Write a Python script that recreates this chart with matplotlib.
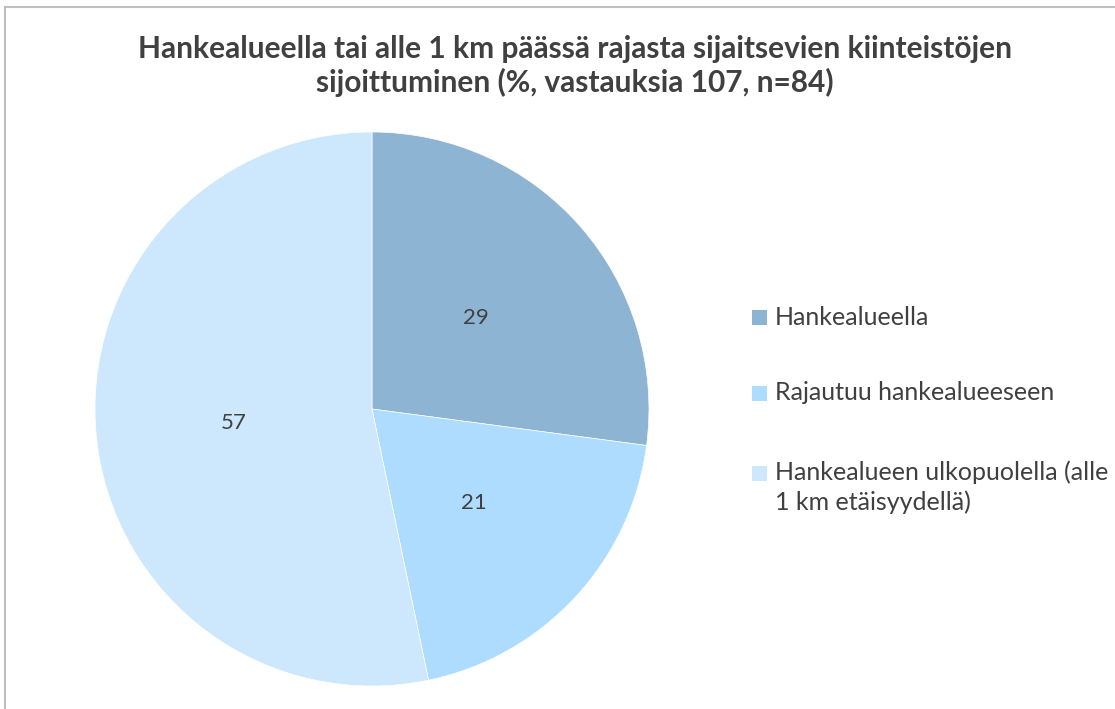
import matplotlib
matplotlib.use("Agg")
import matplotlib.pyplot as plt
from matplotlib.patches import Rectangle
from matplotlib.lines import Line2D

labels = ["Hankealueella", "Rajautuu hankealueeseen",
          "Hankealueen ulkopuolella (alle\n1 km etäisyydellä)"]
values = [29, 21, 57]
colors = ["#8EB4D4", "#ADDCFE", "#CDE7FC"]
title = "Hankealueella tai alle 1 km päässä rajasta sijaitsevien kiinteistöjen\nsijoittuminen (%, vastauksia 107, n=84)"

plt.rcParams['font.family'] = ['Lato', 'DejaVu Sans']

W, H = 1115, 709
fig = plt.figure(figsize=(W / 100, H / 100), dpi=100)

# pie centre (372, 409) px, radius 277 px
cx, cy, r = 372, 409, 277
ax = fig.add_axes([(cx - r) / W, (H - cy - r) / H, 2 * r / W, 2 * r / H])
wedges, texts = ax.pie(values, colors=colors, startangle=90, counterclock=False,
                       labels=[str(v) for v in values], labeldistance=0.5,
                       wedgeprops={'linewidth': 0.5, 'edgecolor': 'white'},
                       textprops={'fontsize': 16, 'color': '#404040'})
for t in texts:
    t.set_horizontalalignment('center')
    t.set_verticalalignment('center')
ax.set_xlim(-1, 1)
ax.set_ylim(-1, 1)
ax.set_aspect('equal')

fig.text(575 / W, 1 - 66 / H, title, ha='center', va='center', fontsize=21.5,
         fontweight='bold', color='#404040', linespacing=1.2)

# legend (marker aligned with first line of each label)
ys = [317, 393, 473]
for lab, col, y in zip(labels, colors, ys):
    fig.patches.append(Rectangle((752 / W, 1 - (y + 7.5) / H), 15 / W, 15 / H,
                                 transform=fig.transFigure, facecolor=col,
                                 edgecolor='none'))
    for i, line in enumerate(lab.split("\n")):
        fig.text(775 / W, 1 - (y + 7.5 + 29 * i) / H, line, ha='left',
                 va='baseline', fontsize=18, color='#404040')

# chart border (only left and top visible)
fig.lines.append(Line2D([5 / W, 5 / W], [0, 1 - 7 / H], transform=fig.transFigure,
                        color='#BFBFBF', linewidth=1.5))
fig.lines.append(Line2D([5 / W, 1], [1 - 7 / H, 1 - 7 / H], transform=fig.transFigure,
                        color='#BFBFBF', linewidth=1.5))

fig.savefig("out.png", dpi=100)
